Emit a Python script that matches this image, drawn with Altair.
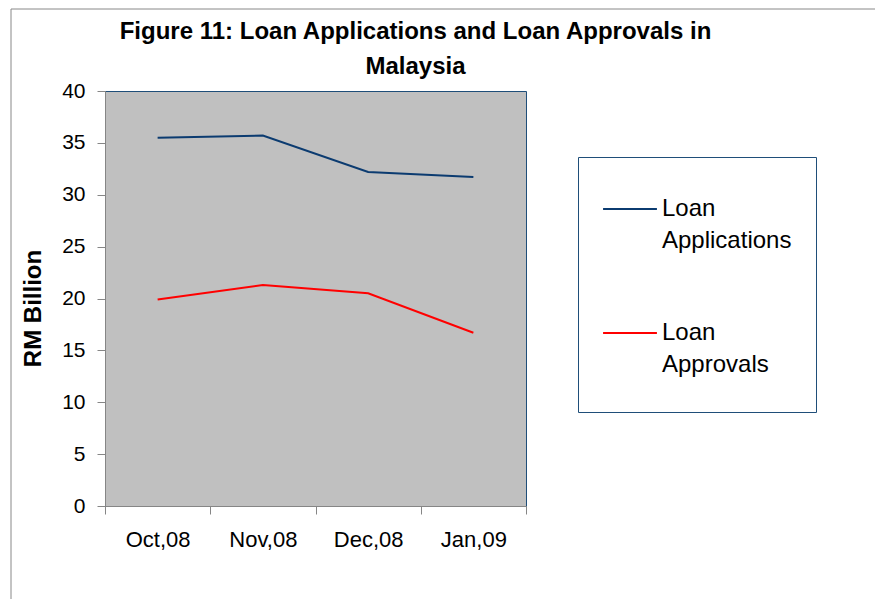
import altair as alt
import pandas as pd

months = ["Oct,08", "Nov,08", "Dec,08", "Jan,09"]
applications = [35.5, 35.7, 32.2, 31.7]
approvals = [19.9, 21.3, 20.5, 16.7]
series_names = ["Loan Applications", "Loan Approvals"]
series_colors = ["#0B3B70", "#FF0000"]

rows = []
for m, a in zip(months, applications):
    rows.append({"month": m, "value": a, "series": series_names[0]})
for m, a in zip(months, approvals):
    rows.append({"month": m, "value": a, "series": series_names[1]})
df = pd.DataFrame(rows)

FONT = "Liberation Sans"

lines = alt.Chart(df).mark_line(strokeWidth=2).encode(
    x=alt.X("month:N", sort=months,
            scale=alt.Scale(type="band", paddingInner=0, paddingOuter=0),
            axis=alt.Axis(title=None, tickBand="extent", labelAngle=0,
                          labelFontSize=22, labelFont=FONT, labelColor="#000000",
                          labelPadding=15, tickSize=8, domainColor="#868686",
                          tickColor="#868686", grid=False)),
    y=alt.Y("value:Q", scale=alt.Scale(domain=[0, 40], nice=False),
            axis=alt.Axis(title="RM Billion", values=[0, 5, 10, 15, 20, 25, 30, 35, 40],
                          labelFontSize=21, labelFont=FONT, labelColor="#000000",
                          labelPadding=12, tickSize=8, domainColor="#868686",
                          tickColor="#868686", grid=False,
                          titleFontSize=24, titleFont=FONT, titleFontWeight="bold",
                          titleColor="#000000", titlePadding=16, titleY=217)),
    color=alt.Color("series:N", sort=series_names,
                    scale=alt.Scale(domain=series_names, range=series_colors),
                    legend=alt.Legend(title=" ", titleOrient="bottom", titleFontSize=1,
                                      titlePadding=10,
                                      orient="none", legendX=473, legendY=66,
                                      symbolType="stroke", symbolSize=2900,
                                      symbolStrokeWidth=2, labelFontSize=24,
                                      labelFont=FONT, labelColor="#000000",
                                      labelLimit=300, labelExpr="split(datum.label, ' ')",
                                      labelBaseline="middle",
                                      padding=24, rowPadding=52,
                                      strokeColor="#1F4E79", fillColor="#FFFFFF")),
)

border = alt.Chart(pd.DataFrame({"a": [0]})).mark_rect(
    fill=None, stroke="#888888", strokeWidth=1
).encode(x=alt.value(-94), y=alt.value(-82), x2=alt.value(1200), y2=alt.value(1200))

chart = alt.layer(border, lines).properties(
    width=421, height=415,
    padding={"left": 97, "top": 83, "right": 349, "bottom": 93},
    autosize=alt.AutoSizeParams(type="none"),
    title=alt.Title(["Figure 11: Loan Applications and Loan Approvals in", "Malaysia"],
                    fontSize=24, font=FONT, fontWeight="bold", color="#000000",
                    anchor="middle", dx=100, dy=70, offset=0, lineHeight=35),
).configure_view(fill="#C0C0C0", stroke="#1F4E79", strokeWidth=1)
chart.config.style = {"guide-label": {"lineHeight": 32}}

chart.save("out.html", embed_options={"renderer": "svg", "actions": False})
